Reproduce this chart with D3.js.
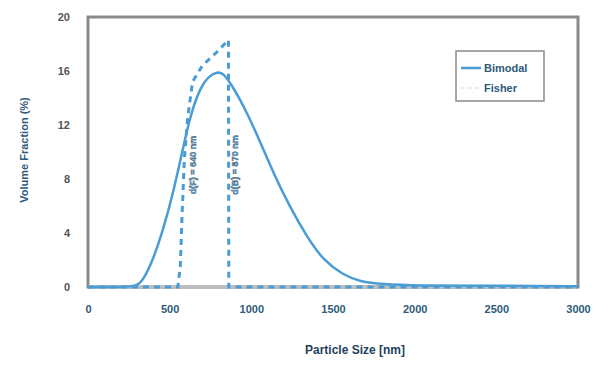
<!DOCTYPE html>
<html><head><meta charset="utf-8">
<script src="https://cdn.jsdelivr.net/npm/d3@7"></script>
<style>body{margin:0;background:#fff}svg{font-family:"Liberation Sans",Arial,sans-serif}</style>
</head><body>
<svg id="c" width="609" height="365"></svg>
<script>
const xTicks = [0, 500, 1000, 1500, 2000, 2500, 3000];
const yTicks = [0, 4, 8, 12, 16, 20];
const seriesNames = ["Bimodal", "Fisher"];
const bimodalSize = [0, 100, 200, 300, 337, 398, 459, 520, 575, 624, 686, 747, 790, 827, 888, 930, 973, 1053, 1133, 1237, 1341, 1439, 1561, 1665, 1800, 2000, 2500, 3000];
const bimodalFrac = [0, 0, 0, 0.05, 0.5, 2.0, 4.2, 6.9, 9.9, 12.6, 14.8, 15.7, 15.9, 15.9, 14.8, 13.9, 12.9, 10.8, 8.5, 5.9, 3.7, 2.0, 0.9, 0.4, 0.2, 0.1, 0.1, 0.05];
const fisherSize = [0, 550, 565, 575, 590, 610, 640, 700, 780, 860, 862, 3000];
const fisherFrac = [0, 0, 1.5, 5, 9.5, 12.5, 15.2, 16.4, 17.3, 18.3, 0, 0];
const markerSize = [640, 870];
const markerLabels = ["d(F) = 640 nm", "d(B) = 870 nm"];

const svg = d3.select("#c");
const L = 88, R = 578, T = 17, B = 287;
const x = d3.scaleLinear().domain([0, 3000]).range([L, R]);
const y = d3.scaleLinear().domain([0, 20]).range([B, T]);
const blue = "#4a9cd6", txt = "#2e5a7c", grey = "#8a8a8a";

svg.append("rect").attr("x", L).attr("y", T).attr("width", R - L).attr("height", B - T)
  .attr("fill", "none").attr("stroke", grey).attr("stroke-width", 3);
svg.append("line").attr("x1", L).attr("x2", R).attr("y1", B).attr("y2", B)
  .attr("stroke", "#bdbdbd").attr("stroke-width", 4);

const xa = svg.append("g").attr("transform", `translate(0,${B})`)
  .call(d3.axisBottom(x).tickValues(xTicks).tickFormat(d3.format("d")).tickSize(0).tickPadding(18));
const ya = svg.append("g").attr("transform", `translate(${L},0)`)
  .call(d3.axisLeft(y).tickValues(yTicks).tickFormat(d3.format("d")).tickSize(0).tickPadding(18));
[xa, ya].forEach(a => {
  a.select(".domain").remove();
  a.selectAll("text").attr("fill", txt).attr("font-size", 11).attr("font-weight", "bold");
});
ya.selectAll("text").attr("fill", "#555");

const line = d3.line().x(d => x(d[0])).y(d => y(d[1]));
const bim = bimodalSize.map((s, i) => [s, bimodalFrac[i]]);
const fis = fisherSize.map((s, i) => [s, fisherFrac[i]]);
svg.append("path").datum(fis).attr("d", line).attr("fill", "none")
  .attr("stroke", blue).attr("stroke-width", 3).attr("stroke-dasharray", "6,5");
svg.append("path").datum(bim).attr("d", d3.line().curve(d3.curveBasis).x(d => x(d[0])).y(d => y(d[1])))
  .attr("fill", "none").attr("stroke", blue).attr("stroke-width", 2.5);

markerSize.forEach((m, i) => {
  const px = x(m) + (i === 0 ? 3 : 8), py = 165;
  svg.append("text").attr("transform", `translate(${px},${py}) rotate(-90)`)
    .attr("text-anchor", "middle").attr("font-size", 9).attr("font-weight", "bold")
    .attr("fill", blue).attr("stroke", "#555").attr("stroke-width", 0.4).text(markerLabels[i]);
});

const lg = svg.append("g");
lg.append("rect").attr("x", 456).attr("y", 51).attr("width", 88).attr("height", 50)
  .attr("fill", "#fff").attr("stroke", grey).attr("stroke-width", 1.5);
lg.append("line").attr("x1", 461).attr("x2", 481).attr("y1", 68).attr("y2", 68)
  .attr("stroke", blue).attr("stroke-width", 2.5);
lg.append("line").attr("x1", 461).attr("x2", 481).attr("y1", 88).attr("y2", 88)
  .attr("stroke", blue).attr("stroke-width", 2).attr("stroke-dasharray", "4,3").attr("opacity", 0.15);
seriesNames.forEach((n, i) => {
  lg.append("text").attr("x", 484).attr("y", 72 + i * 20).attr("font-size", 11)
    .attr("font-weight", "bold").attr("fill", txt).text(n);
});

svg.append("text").attr("x", 355).attr("y", 354).attr("text-anchor", "middle")
  .attr("font-size", 12).attr("font-weight", "bold").attr("fill", "#243f5c").text("Particle Size [nm]");
svg.append("text").attr("transform", "translate(28,150) rotate(-90)").attr("text-anchor", "middle")
  .attr("font-size", 11).attr("font-weight", "bold").attr("fill", txt).text("Volume Fraction (%)");
</script>
</body></html>
